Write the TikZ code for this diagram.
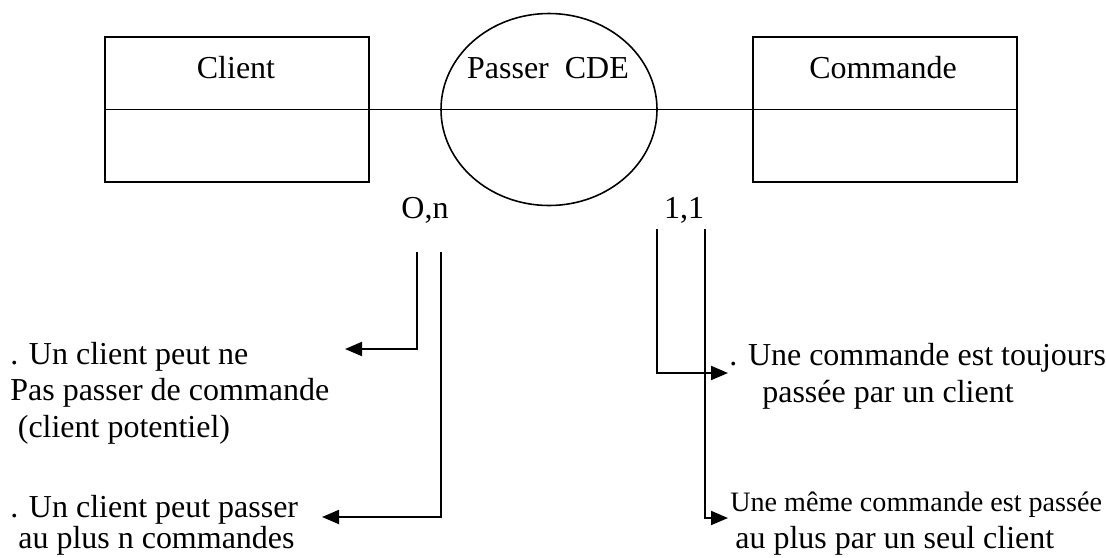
\documentclass[tikz,border=0pt]{standalone}
\usepackage{fontspec}
\setmainfont{Liberation Serif}
\usetikzlibrary{shapes.geometric, arrows.meta, positioning}

\begin{document}
\begin{tikzpicture}[
	entity/.style={rectangle, draw=black, line width=1.1pt, minimum width=5.28cm,
	               minimum height=2.9cm, inner sep=0pt},
	assoc/.style={ellipse, draw=black, line width=0.9pt, minimum width=4.32cm,
	              minimum height=3.84cm, inner sep=0pt},
	lbl/.style={anchor=base, inner sep=0pt, font=\fontsize{18.2}{20.5}\selectfont},
	note/.style={anchor=base west, align=left, inner sep=0pt,
	             font=\fontsize{18.2}{20.5}\selectfont},
	link/.style={draw=black, line width=1.1pt},
	arr/.style={-{Triangle[length=0.34cm, width=0.28cm]}, draw=black, line width=1.1pt}
	]
\useasboundingbox (0,0) rectangle (22.12,-11.14);

\node[entity] (client) at (4.74,-2.19) {};
\node[entity] (cmd)    at (17.70,-2.19) {};
\node[assoc]  (passer) at (10.98,-2.19) {};

\node[lbl] (clientname) at (4.72,-1.56)  {Client};
\node[lbl] (cmdname)    at (17.66,-1.56) {Commande};
\node[lbl] (passername) at (10.96,-1.56) {Passer~ CDE};

\node[lbl] (card1) at (8.50,-4.36)  {O,n};
\node[lbl] (card2) at (13.68,-4.36) {1,1};

% explications (ancre = ligne de base de la derniere ligne)
\node[note] (n1) at (0.20,-8.74)  {. Un client peut ne\\Pas passer de commande\\\hspace*{0.15cm}(client potentiel)};
\node[note] (n2) at (0.20,-10.96) {. Un client peut passer\\[-0.12cm]\hspace*{0.16cm}au plus n commandes};
\node[note] (n3) at (14.58,-8.04) {. Une commande est toujours\\\hspace*{0.66cm}passée par un client};
\node[note] (n4) at (14.60,-10.96) {{\fontsize{16}{19.9}\selectfont Une même commande est passée}\\\hspace*{0.1cm}au plus par un seul client};

% ligne d'association
\draw[link] (client.west) -- (client.east);
\draw[link] (cmd.west) -- (cmd.east);
\draw[link] (client.east) -- (passer.west) -- (passer.east) -- (cmd.west);

% renvois vers les explications
\coordinate (a1) at (8.34,-5.04);
\coordinate (a2) at (8.82,-5.04);
\coordinate (b1) at (13.14,-4.58);
\coordinate (b2) at (14.10,-4.58);
\coordinate (t1) at (6.90,-6.98);
\coordinate (t2) at (6.44,-10.34);
\coordinate (t3) at (14.56,-7.46);
\coordinate (t4) at (14.56,-10.36);

\draw[arr] (a1) |- (t1);
\draw[arr] (a2) |- (t2);
\draw[arr] (b1) |- (t3);
\draw[arr] (b2) |- (t4);
\end{tikzpicture}
\end{document}
